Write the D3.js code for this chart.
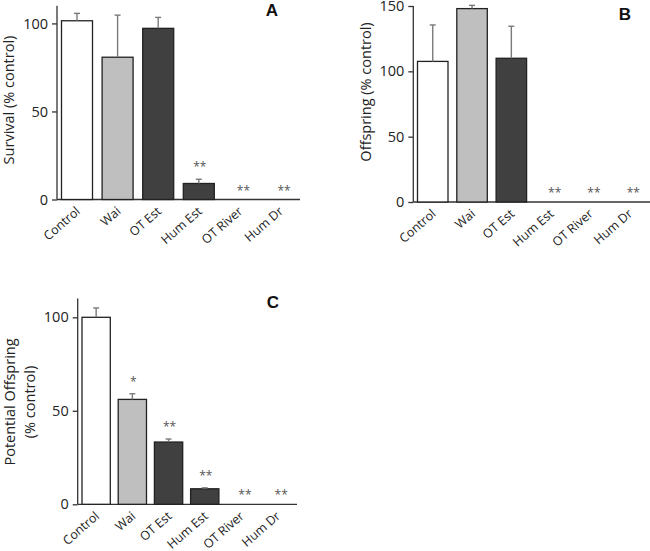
<!DOCTYPE html>
<html>
<head>
<meta charset="utf-8">
<script src="https://cdn.jsdelivr.net/npm/d3@7"></script>
<style>
  html, body { margin: 0; padding: 0; background: #fff; }
  svg { display: block; }
</style>
</head>
<body>
<svg id="chart" width="650" height="551"></svg>
<script>
// ---- data ----
const categories = ["Control", "Wai", "OT Est", "Hum Est", "OT River", "Hum Dr"];
const barColors = ["#ffffff", "#bfbfbf", "#404040", "#404040", "#404040", "#404040"];

const survival = [101.5, 80.8, 97.2, 9.1, 0, 0];
const survivalErr = [4.2, 23.9, 6.2, 2.4, 0, 0];
const survivalSig = ["", "", "", "**", "**", "**"];
const survivalTicks = [0, 50, 100];

const offspring = [107.6, 148, 110, 0, 0, 0];
const offspringErr = [27.9, 2.5, 24.5, 0, 0, 0];
const offspringSig = ["", "", "", "**", "**", "**"];
const offspringTicks = [0, 50, 100, 150];

const potential = [100, 56.1, 33.3, 8.3, 0, 0];
const potentialErr = [5, 3, 1.6, 0.5, 0, 0];
const potentialSig = ["", "*", "**", "**", "**", "**"];
const potentialTicks = [0, 50, 100];

// ---- drawing ----
const svg = d3.select("#chart");
const FONT = "'Open Sans', 'Noto Sans', sans-serif";

function drawPanel(cfg) {
  const g = svg.append("g");
  const y = d3.scaleLinear().domain(cfg.yDomain).range([cfg.y0, cfg.yTop]);
  const x = d3.scaleBand().domain(categories)
    .range([cfg.barStart, cfg.barStart + cfg.step * 5 + cfg.bw])
    .paddingInner(1 - cfg.bw / cfg.step).paddingOuter(0);

  // y axis
  const yAxis = d3.axisLeft(y).tickValues(cfg.ticks).tickSize(5).tickPadding(4);
  const ya = g.append("g").attr("transform", `translate(${cfg.axisX},0)`).call(yAxis);
  ya.select(".domain").attr("stroke", "#333").attr("stroke-width", 1.3)
    .attr("d", `M0,${cfg.y0}V${cfg.yTop}`);
  ya.selectAll(".tick line").attr("stroke", "#333").attr("stroke-width", 1.3);
  ya.selectAll(".tick text").attr("font-family", FONT).attr("font-size", 14.5).attr("fill", "#222");

  // x axis
  const xAxis = d3.axisBottom(x).tickSize(0).tickPadding(0);
  const xa = g.append("g").attr("transform", `translate(0,${cfg.y0})`).call(xAxis);
  xa.select(".domain").attr("stroke", "#333").attr("stroke-width", 1.3)
    .attr("d", `M${cfg.axisX},0H${cfg.xEnd}`);
  xa.selectAll(".tick text")
    .attr("font-family", FONT).attr("font-size", 12.5).attr("fill", "#222")
    .attr("text-anchor", "end")
    .attr("dy", null).attr("y", 0)
    .attr("transform", "translate(4,13) rotate(-41)");

  // bars
  g.selectAll("rect.bar").data(cfg.values).enter().append("rect")
    .attr("class", "bar")
    .attr("x", (d, i) => x(categories[i]))
    .attr("y", d => y(d))
    .attr("width", x.bandwidth())
    .attr("height", d => y(0) - y(d))
    .attr("fill", (d, i) => barColors[i])
    .attr("stroke", "#222")
    .attr("stroke-width", 1.3)
    .style("display", d => d > 0 ? null : "none");

  // error bars
  const eg = g.selectAll("g.err").data(cfg.values).enter().append("g").attr("class", "err")
    .style("display", (d, i) => cfg.errs[i] > 0 ? null : "none");
  eg.append("line")
    .attr("x1", (d, i) => x(categories[i]) + x.bandwidth() / 2)
    .attr("x2", (d, i) => x(categories[i]) + x.bandwidth() / 2)
    .attr("y1", d => y(d))
    .attr("y2", (d, i) => y(d + cfg.errs[i]))
    .attr("stroke", "#7a7a7a").attr("stroke-width", 1.4);
  eg.append("line")
    .attr("x1", (d, i) => x(categories[i]) + x.bandwidth() / 2 - 3)
    .attr("x2", (d, i) => x(categories[i]) + x.bandwidth() / 2 + 3)
    .attr("y1", (d, i) => y(d + cfg.errs[i]))
    .attr("y2", (d, i) => y(d + cfg.errs[i]))
    .attr("stroke", "#7a7a7a").attr("stroke-width", 1.4);

  // significance markers
  g.selectAll("text.sig").data(cfg.sig).enter().append("text")
    .attr("class", "sig")
    .attr("x", (d, i) => x(categories[i]) + x.bandwidth() / 2 + (cfg.values[i] > 0 ? 1 : 4))
    .attr("y", (d, i) => {
      const top = y(cfg.values[i] + cfg.errs[i]);
      return cfg.values[i] > 0 ? top - 8 : top - 5;
    })
    .attr("text-anchor", "middle")
    .attr("font-family", FONT).attr("font-size", 12).attr("fill", "#555")
    .text(d => d);

  // panel letter
  g.append("text").attr("x", cfg.letterX).attr("y", cfg.letterY)
    .attr("text-anchor", "middle")
    .attr("font-family", "'Liberation Sans', Arial, sans-serif")
    .attr("font-weight", "bold").attr("font-size", 17).attr("fill", "#111")
    .text(cfg.letter);

  // y title
  const t = g.append("text")
    .attr("transform", `translate(${cfg.titleX},${cfg.titleY}) rotate(-90)`)
    .attr("text-anchor", "middle")
    .attr("font-family", FONT).attr("font-size", 14.5).attr("fill", "#222");
  cfg.title.forEach((line, k) => {
    t.append("tspan").attr("x", 0).attr("y", k * cfg.titleLH).text(line);
  });
}

drawPanel({
  values: survival, errs: survivalErr, sig: survivalSig, ticks: survivalTicks,
  yDomain: [0, 110], y0: 199.5, yTop: 5.8,
  axisX: 57, barStart: 61.5, step: 40.6, bw: 31, xEnd: 300,
  letter: "A", letterX: 272, letterY: 16,
  title: ["Survival (% control)"], titleX: 14, titleY: 100, titleLH: 0
});

drawPanel({
  values: offspring, errs: offspringErr, sig: offspringSig, ticks: offspringTicks,
  yDomain: [0, 150], y0: 202, yTop: 6,
  axisX: 413.3, barStart: 417.5, step: 39.3, bw: 30.5, xEnd: 650,
  letter: "B", letterX: 625, letterY: 20,
  title: ["Offspring (% control)"], titleX: 371, titleY: 92, titleLH: 0
});

drawPanel({
  values: potential, errs: potentialErr, sig: potentialSig, ticks: potentialTicks,
  yDomain: [0, 110], y0: 504.3, yTop: 298.6,
  axisX: 77.7, barStart: 82, step: 36.2, bw: 28.3, xEnd: 297,
  letter: "C", letterX: 273, letterY: 308,
  title: ["Potential Offspring", "(% control)"], titleX: 15, titleY: 402, titleLH: 20
});
</script>
</body>
</html>
